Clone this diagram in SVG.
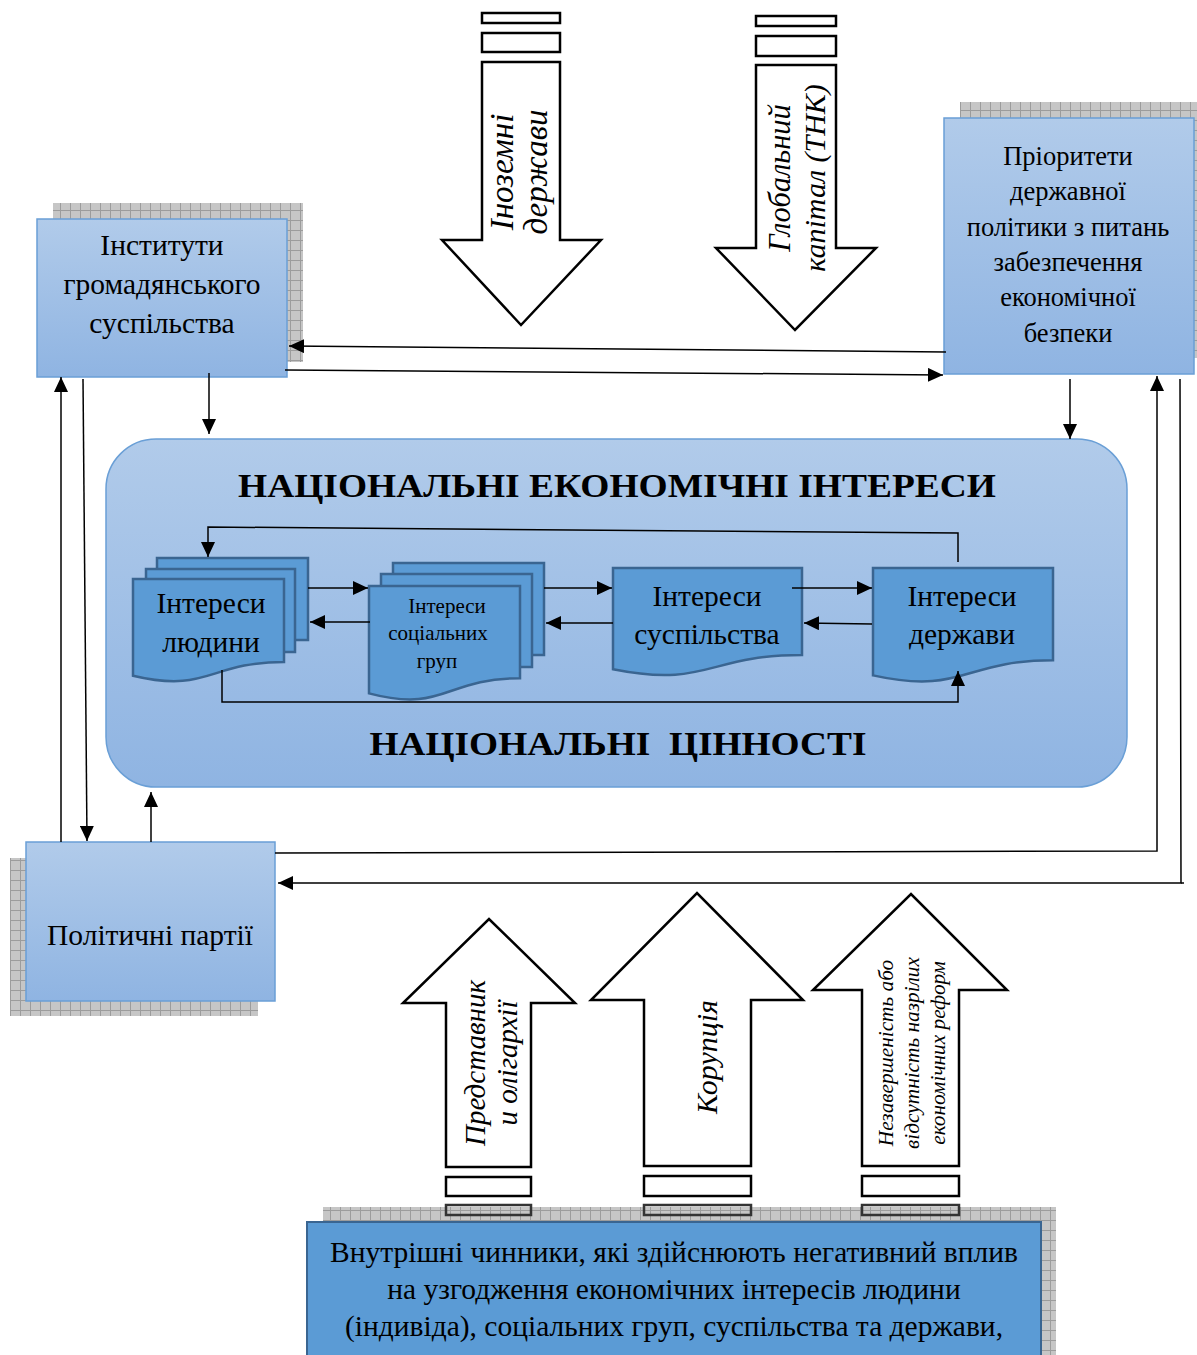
<svg xmlns="http://www.w3.org/2000/svg" width="1197" height="1355" viewBox="0 0 1197 1355">
<defs>
<linearGradient id="lb" x1="0" y1="0" x2="0" y2="1">
<stop offset="0" stop-color="#b1cbea"/>
<stop offset="1" stop-color="#8fb4e2"/>
</linearGradient>
<pattern id="sh" width="10" height="10" patternUnits="userSpaceOnUse">
<rect width="10" height="10" fill="#c6c6c6"/>
<path d="M0,0.5H10M0.5,0V10" stroke="#9c9c9c" stroke-width="1"/>
</pattern>
<marker id="ah" markerUnits="userSpaceOnUse" markerWidth="16" markerHeight="14" refX="15" refY="7" orient="auto">
<path d="M0,0 L15,7 L0,14 Z" fill="#000"/>
</marker>
<style>
.box{fill:url(#lb);stroke:#6a9fd6;stroke-width:1.5}
.shadow{fill:url(#sh)}
.doc{fill:#5b9bd5;stroke:#3a6591;stroke-width:2.5}
.t{font-family:"Liberation Serif","Times New Roman",serif;fill:#000;text-anchor:middle}
.ti{font-family:"Liberation Serif","Times New Roman",serif;font-style:italic;fill:#000;text-anchor:middle}
.ttl{font-family:"Liberation Serif","Times New Roman",serif;font-weight:bold;fill:#000;text-anchor:middle}
.blk{fill:#fff;stroke:#000;stroke-width:2.5}
.blk2{fill:none;stroke:#333;stroke-width:2.5}
.c{fill:none;stroke:#000;stroke-width:1.5}
.ca{fill:none;stroke:#000;stroke-width:1.5;marker-end:url(#ah)}
</style>
</defs>

<g id="external-foreign">
<rect class="blk" x="482" y="13" width="78" height="10"/>
<rect class="blk" x="482" y="33" width="78" height="19"/>
<path class="blk" d="M482,62 L560,62 L560,240 L601,240 L521,325 L442,240 L482,240 Z"/>
<g transform="translate(513,172) rotate(-90)">
<text class="ti" x="0" y="0" font-size="33">Іноземні</text>
<text class="ti" x="0" y="34" font-size="33">держави</text>
</g>
</g>

<g id="external-global">
<rect class="blk" x="756" y="16" width="80" height="10"/>
<rect class="blk" x="756" y="36" width="80" height="20"/>
<path class="blk" d="M756,65 L836,65 L836,248 L876,248 L795,330 L716,248 L756,248 Z"/>
<g transform="translate(790,178) rotate(-90)">
<text class="ti" x="0" y="0" font-size="30.5">Глобальний</text>
<text class="ti" x="0" y="35" font-size="30">капітал (ТНК)</text>
</g>
</g>

<g id="civil-society">
<rect class="shadow" x="53" y="203" width="250" height="159"/>
<rect class="box" x="37" y="219" width="250" height="158"/>
<text class="t" font-size="29.5" x="162" y="255">Інститути</text>
<text class="t" font-size="29.5" x="162" y="294">громадянського</text>
<text class="t" font-size="29.5" x="162" y="333">суспільства</text>
</g>

<g id="priorities">
<rect class="shadow" x="960" y="102" width="250" height="256"/>
<rect class="box" x="944" y="118" width="250" height="256"/>
<text class="t" font-size="26.5" x="1068" y="165">Пріоритети</text>
<text class="t" font-size="26.5" x="1068" y="200">державної</text>
<text class="t" font-size="26.5" x="1068" y="236">політики з питань</text>
<text class="t" font-size="26.5" x="1068" y="271">забезпечення</text>
<text class="t" font-size="26.5" x="1068" y="306">економічної</text>
<text class="t" font-size="26.5" x="1068" y="342">безпеки</text>
</g>

<g id="national-interests">
<rect class="box" x="106" y="439" width="1021" height="348" rx="50" ry="50"/>
<text class="ttl" font-size="34" x="617" y="497" textLength="758" lengthAdjust="spacingAndGlyphs">НАЦІОНАЛЬНІ ЕКОНОМІЧНІ ІНТЕРЕСИ</text>
<text class="ttl" font-size="34" x="618" y="755" textLength="497" lengthAdjust="spacingAndGlyphs" xml:space="preserve">НАЦІОНАЛЬНІ  ЦІННОСТІ</text>
</g>

<g id="interests-person">
<rect class="doc" x="157" y="558" width="151" height="82"/>
<rect class="doc" x="146" y="569" width="149" height="83"/>
<path class="doc" d="M133,579 H284 V662 C208.5,662 208.5,693.6 133,675.7 Z"/>
<text class="t" font-size="29.5" x="211" y="613">Інтереси</text>
<text class="t" font-size="29.5" x="211" y="652">людини</text>
</g>

<g id="interests-groups">
<rect class="doc" x="393" y="563" width="151" height="92"/>
<rect class="doc" x="381" y="574" width="151" height="93"/>
<path class="doc" d="M369,586 H520 V678.2 C444.5,678.2 444.5,713.3 369,693.4 Z"/>
<text class="t" font-size="21" x="447" y="613">Інтереси</text>
<text class="t" font-size="21" x="438" y="640">соціальних</text>
<text class="t" font-size="21" x="437" y="668">груп</text>
</g>

<g id="interests-society">
<path class="doc" d="M613,568 H802 V655 C707.5,655 707.5,688.1 613,669.3 Z"/>
<text class="t" font-size="29.5" x="707" y="606">Інтереси</text>
<text class="t" font-size="29.5" x="707" y="644">суспільства</text>
</g>

<g id="interests-state">
<path class="doc" d="M873,568 H1053 V660.2 C963,660.2 963,695.3 873,675.4 Z"/>
<text class="t" font-size="29.5" x="962" y="606">Інтереси</text>
<text class="t" font-size="29.5" x="962" y="644">держави</text>
</g>

<g id="political-parties">
<rect class="shadow" x="10" y="858" width="248" height="158"/>
<rect class="box" x="26" y="842" width="249" height="159"/>
<text class="t" font-size="29.5" x="150" y="945">Політичні партії</text>
</g>

<g id="negative-a">
<path class="blk" d="M446,1167 L446,1003 L403,1003 L489,919 L575,1003 L531,1003 L531,1167 Z"/>
<g transform="translate(485,1063) rotate(-90)">
<text class="ti" x="0" y="0" font-size="29">Представник</text>
<text class="ti" x="0" y="32" font-size="29">и олігархії</text>
</g>
</g>

<g id="negative-b">
<path class="blk" d="M644,1166 L644,1000 L591,1000 L697,893 L803,1000 L751,1000 L751,1166 Z"/>
<g transform="translate(717,1057) rotate(-90)">
<text class="ti" x="0" y="0" font-size="30">Корупція</text>
</g>
</g>

<g id="negative-c">
<path class="blk" d="M862,1166 L862,990 L813,990 L911,894 L1007,990 L959,990 L959,1166 Z"/>
<g transform="translate(893,1053) rotate(-90)">
<text class="ti" x="0" y="0" font-size="21.3">Незавершеність або</text>
<text class="ti" x="0" y="26" font-size="21.3">відсутність назрілих</text>
<text class="ti" x="0" y="52" font-size="21.3">економічних реформ</text>
</g>
</g>

<g id="internal-factors">
<rect class="shadow" x="323" y="1207" width="733" height="160"/>
<rect class="blk" x="446" y="1177" width="85" height="19"/>
<rect class="blk" x="644" y="1176" width="107" height="20"/>
<rect class="blk" x="862" y="1176" width="97" height="20"/>
<rect class="blk2" x="446" y="1205" width="85" height="10"/>
<rect class="blk2" x="644" y="1205" width="107" height="10"/>
<rect class="blk2" x="862" y="1205" width="97" height="10"/>
<rect x="307" y="1222" width="734" height="150" fill="#5b9bd5" stroke="#3a6591" stroke-width="2"/>
<text class="t" font-size="29.5" x="674" y="1262">Внутрішні чинники, які здійснюють негативний вплив</text>
<text class="t" font-size="29.5" x="674" y="1299">на узгодження економічних інтересів людини</text>
<text class="t" font-size="29.5" x="674" y="1336">(індивіда), соціальних груп, суспільства та держави,</text>
</g>

<g id="connectors">
<path class="ca" d="M946,352 L289,346"/>
<path class="ca" d="M285,370 L943,375"/>
<path class="ca" d="M209,373 L209,434"/>
<path class="ca" d="M1070,379 L1070,439"/>
<path class="ca" d="M275,853 L1157,851 L1157,376"/>
<path class="ca" d="M1180,379 L1181,883 L278,883"/>
<path class="c" d="M1181,883 L1184,883"/>
<path class="ca" d="M61,842 L61,377"/>
<path class="ca" d="M83,379 L87,841"/>
<path class="ca" d="M151,842 L151,792"/>
<path class="ca" d="M958,562 L958,533 L208,527 L208,557"/>
<path class="ca" d="M222,670 L222,702 L958,702 L958,671"/>
<path class="ca" d="M308,588 L368,588"/>
<path class="ca" d="M370,622 L310,622"/>
<path class="ca" d="M544,588 L612,588"/>
<path class="ca" d="M613,623 L546,623"/>
<path class="ca" d="M792,588 L872,588"/>
<path class="ca" d="M872,624 L804,623"/>
</g>
</svg>
